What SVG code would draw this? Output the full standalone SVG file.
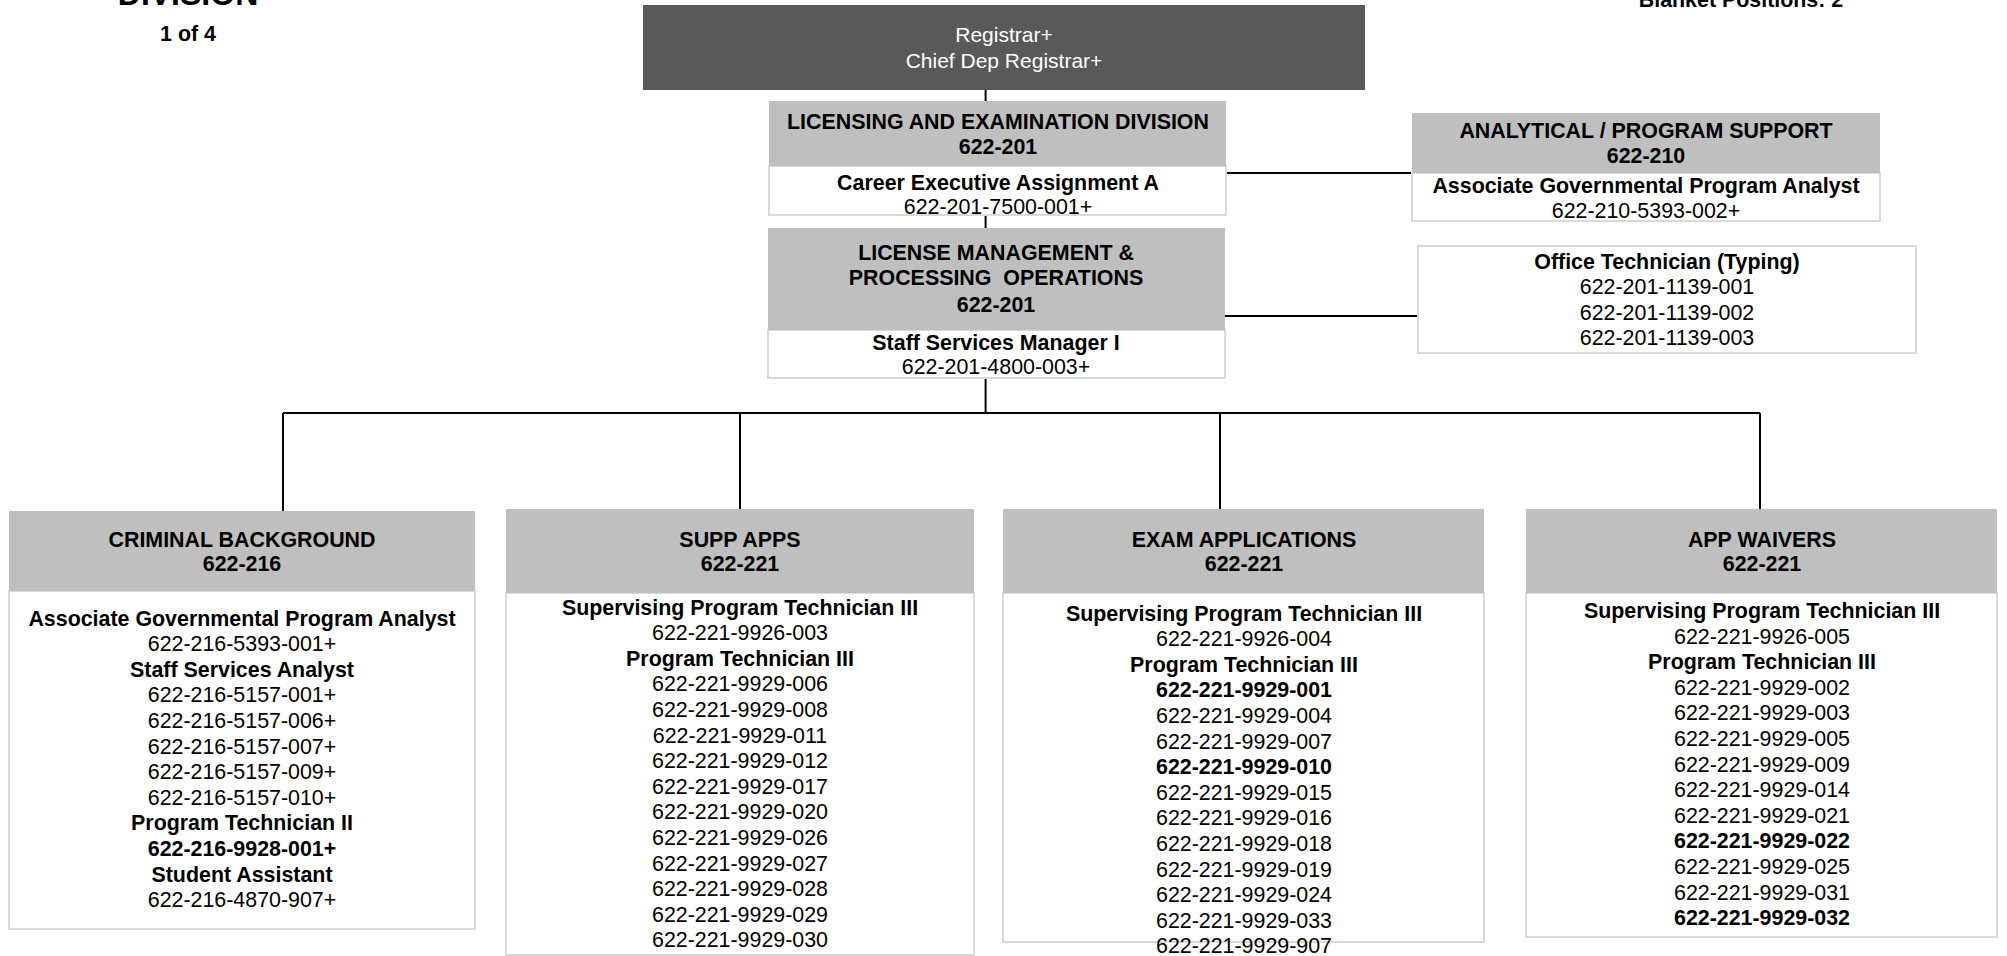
<svg xmlns="http://www.w3.org/2000/svg" width="2007" height="956" viewBox="0 0 2007 956">
<style>
text{font-family:"Liberation Sans",Arial,sans-serif;font-size:21.4px;fill:#000;text-anchor:middle}
.b{font-weight:bold}
.w{fill:#fff;font-size:21px}
.hd{fill:#bfbfbf}
.bd{fill:#fff;stroke:#d9d9d9;stroke-width:2}
.dk{fill:#595959}
.c{stroke:#000;stroke-width:2;fill:none}
</style>
<rect width="2007" height="956" fill="#fff"/>
<g id="titles">
<text class="b" x="188" y="5" style="font-size:32px">DIVISION</text>
<text class="b" x="188" y="41">1 of 4</text>
<text class="b" x="1741" y="7">Blanket Positions: 2</text>
</g>
<g id="connectors">
<path class="c" d="M985.6 90V101M985.6 215V228M985.6 378V413M283 413H1760M283 413V511M740 413V509M1220 413V509M1760 413V509M1226 173H1412M1225 316H1418"/>
</g>
<g id="registrar">
<rect class="dk" x="643" y="5" width="722" height="85"/>
<text class="w" x="1004" y="42">Registrar+</text>
<text class="w" x="1004" y="67.5">Chief Dep Registrar+</text>
</g>
<g id="licensing-exam">
<rect class="bd" x="769" y="166" width="457" height="49"/>
<rect class="hd" x="769" y="101" width="457" height="65"/>
<text class="b" x="998" y="129">LICENSING AND EXAMINATION DIVISION</text>
<text class="b" x="998" y="153.5">622-201</text>
<text class="b" x="998" y="189.5">Career Executive Assignment A</text>
<text x="998" y="213.5">622-201-7500-001+</text>
</g>
<g id="analytical">
<rect class="bd" x="1412" y="173" width="468" height="48"/>
<rect class="hd" x="1412" y="113" width="468" height="60"/>
<text class="b" x="1646" y="138">ANALYTICAL / PROGRAM SUPPORT</text>
<text class="b" x="1646" y="162.5">622-210</text>
<text class="b" x="1646" y="193">Associate Governmental Program Analyst</text>
<text x="1646" y="217.5">622-210-5393-002+</text>
</g>
<g id="license-mgmt">
<rect class="bd" x="768" y="330" width="457" height="48"/>
<rect class="hd" x="768" y="228" width="457" height="102"/>
<text class="b" x="996" y="259.5">LICENSE MANAGEMENT &amp;</text>
<text class="b" x="996" y="285" xml:space="preserve">PROCESSING  OPERATIONS</text>
<text class="b" x="996" y="312">622-201</text>
<text class="b" x="996" y="349.5">Staff Services Manager I</text>
<text x="996" y="373.5">622-201-4800-003+</text>
</g>
<g id="office-tech">
<rect class="bd" x="1418" y="246" width="498" height="107"/>
<text class="b" x="1667" y="268.5">Office Technician (Typing)</text>
<text x="1667" y="294">622-201-1139-001</text>
<text x="1667" y="319.5">622-201-1139-002</text>
<text x="1667" y="345">622-201-1139-003</text>
</g>
<g id="criminal-background">
<rect class="bd" x="9" y="591" width="466" height="338"/>
<rect class="hd" x="9" y="511" width="466" height="80"/>
<text class="b" x="242" y="546.5">CRIMINAL BACKGROUND</text>
<text class="b" x="242" y="570.5">622-216</text>
<text class="b" x="242" y="625.5">Associate Governmental Program Analyst</text>
<text x="242" y="651.1">622-216-5393-001+</text>
<text class="b" x="242" y="676.7">Staff Services Analyst</text>
<text x="242" y="702.3">622-216-5157-001+</text>
<text x="242" y="727.9">622-216-5157-006+</text>
<text x="242" y="753.5">622-216-5157-007+</text>
<text x="242" y="779.1">622-216-5157-009+</text>
<text x="242" y="804.7">622-216-5157-010+</text>
<text class="b" x="242" y="830.3">Program Technician II</text>
<text class="b" x="242" y="855.9">622-216-9928-001+</text>
<text class="b" x="242" y="881.5">Student Assistant</text>
<text x="242" y="907.1">622-216-4870-907+</text>
</g>
<g id="supp-apps">
<rect class="bd" x="506" y="593" width="468" height="362"/>
<rect class="hd" x="506" y="509" width="468" height="84"/>
<text class="b" x="740" y="546.5">SUPP APPS</text>
<text class="b" x="740" y="570.5">622-221</text>
<text class="b" x="740" y="614.5">Supervising Program Technician III</text>
<text x="740" y="640.1">622-221-9926-003</text>
<text class="b" x="740" y="665.7">Program Technician III</text>
<text x="740" y="691.3">622-221-9929-006</text>
<text x="740" y="716.9">622-221-9929-008</text>
<text x="740" y="742.5">622-221-9929-011</text>
<text x="740" y="768.1">622-221-9929-012</text>
<text x="740" y="793.7">622-221-9929-017</text>
<text x="740" y="819.3">622-221-9929-020</text>
<text x="740" y="844.9">622-221-9929-026</text>
<text x="740" y="870.5">622-221-9929-027</text>
<text x="740" y="896.1">622-221-9929-028</text>
<text x="740" y="921.7">622-221-9929-029</text>
<text x="740" y="947.3">622-221-9929-030</text>
</g>
<g id="exam-applications">
<rect class="bd" x="1003" y="593" width="481" height="349"/>
<rect class="hd" x="1003" y="509" width="481" height="84"/>
<text class="b" x="1244" y="546.5">EXAM APPLICATIONS</text>
<text class="b" x="1244" y="570.5">622-221</text>
<text class="b" x="1244" y="620.5">Supervising Program Technician III</text>
<text x="1244" y="646.1">622-221-9926-004</text>
<text class="b" x="1244" y="671.7">Program Technician III</text>
<text class="b" x="1244" y="697.3">622-221-9929-001</text>
<text x="1244" y="722.9">622-221-9929-004</text>
<text x="1244" y="748.5">622-221-9929-007</text>
<text class="b" x="1244" y="774.1">622-221-9929-010</text>
<text x="1244" y="799.7">622-221-9929-015</text>
<text x="1244" y="825.3">622-221-9929-016</text>
<text x="1244" y="850.9">622-221-9929-018</text>
<text x="1244" y="876.5">622-221-9929-019</text>
<text x="1244" y="902.1">622-221-9929-024</text>
<text x="1244" y="927.7">622-221-9929-033</text>
<text x="1244" y="953.3">622-221-9929-907</text>
</g>
<g id="app-waivers">
<rect class="bd" x="1526" y="593" width="471" height="344"/>
<rect class="hd" x="1526" y="509" width="471" height="84"/>
<text class="b" x="1762" y="546.5">APP WAIVERS</text>
<text class="b" x="1762" y="570.5">622-221</text>
<text class="b" x="1762" y="618">Supervising Program Technician III</text>
<text x="1762" y="643.6">622-221-9926-005</text>
<text class="b" x="1762" y="669.2">Program Technician III</text>
<text x="1762" y="694.8">622-221-9929-002</text>
<text x="1762" y="720.4">622-221-9929-003</text>
<text x="1762" y="746">622-221-9929-005</text>
<text x="1762" y="771.6">622-221-9929-009</text>
<text x="1762" y="797.2">622-221-9929-014</text>
<text x="1762" y="822.8">622-221-9929-021</text>
<text class="b" x="1762" y="848.4">622-221-9929-022</text>
<text x="1762" y="874">622-221-9929-025</text>
<text x="1762" y="899.6">622-221-9929-031</text>
<text class="b" x="1762" y="925.2">622-221-9929-032</text>
</g>
</svg>
